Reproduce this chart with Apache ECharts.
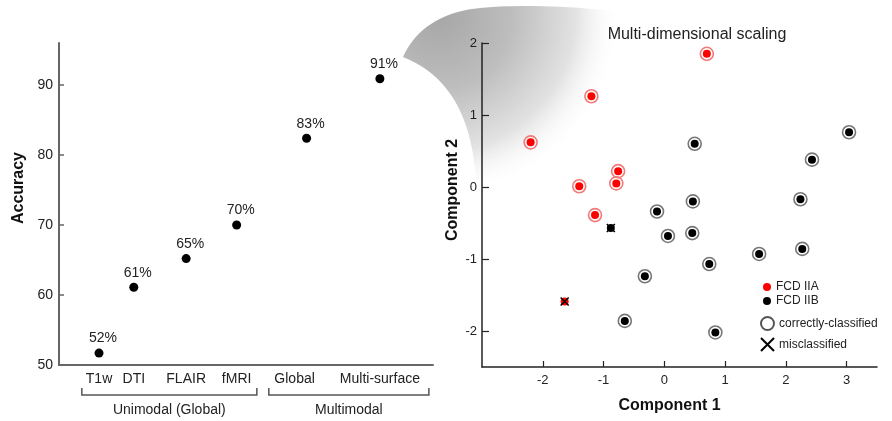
<!DOCTYPE html>
<html>
<head>
<meta charset="utf-8">
<script src="https://cdn.jsdelivr.net/npm/echarts@6/dist/echarts.min.js"></script>
<style>
  html, body { margin: 0; padding: 0; background: #fff; }
  #main { width: 892px; height: 421px; }
</style>
</head>
<body>
<div id="main"></div>
<script>
// left panel: accuracy per modality
const accCats = ['T1w', 'DTI', 'FLAIR', 'fMRI', 'Global', 'Multi-surface'];
const accX = [1.07, 2.0, 3.4, 4.75, 6.62, 8.58];
const accVals = [51.7, 61.1, 65.2, 70.0, 82.4, 90.9];
const accLabels = ['52%', '61%', '65%', '70%', '83%', '91%'];
const accTicks = [50, 60, 70, 80, 90];
const groupNames = ['Unimodal (Global)', 'Multimodal'];
const groupFrom = [0.61, 5.61];
const groupTo = [5.29, 9.89];

// right panel: MDS components
const iiaPts = [[0.70, 1.85], [-1.20, 1.26], [-2.20, 0.62], [-0.76, 0.22], [-0.79, 0.05],
  [-1.40, 0.01], [-1.14, -0.39], [-1.64, -1.59]];
const iiaOk = [1, 1, 1, 1, 1, 1, 1, 0];
const iibPts = [[0.50, 0.60], [3.04, 0.76], [2.43, 0.38], [0.47, -0.20], [-0.12, -0.34],
  [0.06, -0.68], [0.46, -0.64], [2.24, -0.17], [2.27, -0.86], [1.56, -0.93],
  [0.74, -1.07], [-0.32, -1.24], [-0.65, -1.86], [0.84, -2.02], [-0.88, -0.57]];
const iibOk = [1, 1, 1, 1, 1, 1, 1, 1, 1, 1, 1, 1, 1, 1, 0];
const mdsXTicks = [-2, -1, 0, 1, 2, 3];
const mdsYTicks = [-2, -1, 0, 1, 2];

const FONT = 'Liberation Sans, Arial, sans-serif';

const ringData = [];
const missData = [];
iiaPts.forEach((p, i) => {
  if (iiaOk[i]) ringData.push({ value: p, itemStyle: { borderColor: '#f27a7a' } });
  else missData.push(p);
});
iibPts.forEach((p, i) => {
  if (iibOk[i]) ringData.push({ value: p, itemStyle: { borderColor: '#777' } });
  else missData.push(p);
});

const chart = echarts.init(document.getElementById('main'));

const option = {
  animation: false,
  textStyle: { fontFamily: FONT },
  title: {
    text: 'Multi-dimensional scaling',
    left: 692, top: 22, textAlign: 'center', z: 8,
    textStyle: { fontFamily: FONT, fontSize: 16, fontWeight: 'normal', color: '#222' }
  },
  legend: [
    {
      orient: 'vertical', left: 758, top: 276, itemWidth: 8, itemHeight: 8, itemGap: 2,
      data: ['FCD IIA', 'FCD IIB'],
      textStyle: { fontFamily: FONT, fontSize: 12, color: '#222' }
    },
    {
      orient: 'vertical', left: 755, top: 311, itemWidth: 13, itemHeight: 13, itemGap: 6,
      data: ['correctly-classified', 'misclassified'],
      textStyle: { fontFamily: FONT, fontSize: 12, color: '#222' }
    }
  ],
  grid: [
    { left: 59, top: 43, width: 374, bottom: 56 },
    { left: 482, top: 43, right: 15, bottom: 54 }
  ],
  xAxis: [
    {
      gridIndex: 0, type: 'value', min: 0, max: 10, z: 5,
      splitLine: { show: false },
      axisLine: { lineStyle: { color: '#666', width: 2 } },
      axisTick: { show: false },
      axisLabel: {
        customValues: accX, margin: 7, fontSize: 14, color: '#222',
        formatter: v => {
          const i = accX.indexOf(v);
          if (i < 0) return '';
          return accCats[i] === 'Global' ? '{g|Global}' : accCats[i];
        },
        rich: { g: { fontSize: 14, color: '#222', padding: [0, 24, 0, 0] } }
      }
    },
    {
      gridIndex: 1, type: 'value', min: -3, max: 3.5, interval: 1, z: 5,
      splitLine: { show: false },
      axisLine: { onZero: false, lineStyle: { color: '#222', width: 1.5 } },
      axisTick: { inside: true, length: 6, customValues: mdsXTicks, lineStyle: { color: '#222', width: 1.2 } },
      axisLabel: { customValues: mdsXTicks, margin: 7, fontSize: 13, color: '#222' },
      name: 'Component 1', nameLocation: 'middle', nameGap: 31,
      nameTextStyle: { fontSize: 16, fontWeight: 'bold', color: '#111', padding: [0, 20, 0, 0] }
    }
  ],
  yAxis: [
    {
      gridIndex: 0, type: 'value', min: 50, max: 96, z: 5,
      splitLine: { show: false },
      axisLine: { show: true, lineStyle: { color: '#666', width: 2 } },
      axisTick: { show: true, inside: true, length: 5, customValues: accTicks, lineStyle: { color: '#666', width: 1.5 } },
      axisLabel: { customValues: accTicks, margin: 6, fontSize: 14, color: '#222' },
      name: 'Accuracy', nameLocation: 'middle', nameGap: 32,
      nameTextStyle: { fontSize: 16, fontWeight: 'bold', color: '#111', padding: [0, 0, 0, 32] }
    },
    {
      gridIndex: 1, type: 'value', min: -2.5, max: 2, z: 5,
      splitLine: { show: false },
      axisLine: { show: true, onZero: false, lineStyle: { color: '#222', width: 1.5 } },
      axisTick: { show: true, inside: true, length: 7, customValues: mdsYTicks, lineStyle: { color: '#222', width: 1.2 } },
      axisLabel: { customValues: mdsYTicks, margin: 5, fontSize: 13, color: '#222' },
      name: 'Component 2', nameLocation: 'middle', nameGap: 21,
      nameTextStyle: { fontSize: 16, fontWeight: 'bold', color: '#111', padding: [0, 0, 0, 30] }
    }
  ],
  series: [
    {
      name: 'Accuracy', type: 'scatter', xAxisIndex: 0, yAxisIndex: 0, z: 6,
      symbolSize: 9, itemStyle: { color: '#000', opacity: 1 },
      data: accVals.map((v, i) => [accX[i], v]),
      label: {
        show: true, position: 'top', distance: 3, offset: [4, 0],
        fontSize: 14, color: '#222',
        formatter: p => accLabels[p.dataIndex]
      }
    },
    {
      name: 'FCD IIA', type: 'scatter', xAxisIndex: 1, yAxisIndex: 1, z: 6,
      symbol: 'circle', symbolSize: 8, itemStyle: { color: '#ff0000', opacity: 1 },
      data: iiaPts
    },
    {
      name: 'FCD IIB', type: 'scatter', xAxisIndex: 1, yAxisIndex: 1, z: 6,
      symbol: 'circle', symbolSize: 8, itemStyle: { color: '#000', opacity: 1 },
      data: iibPts
    },
    {
      name: 'correctly-classified', type: 'scatter', xAxisIndex: 1, yAxisIndex: 1, z: 6,
      symbol: 'circle', symbolSize: 13,
      itemStyle: { color: 'rgba(0,0,0,0)', borderColor: '#555', borderWidth: 1.6, opacity: 1 },
      data: ringData
    },
    {
      name: 'misclassified', type: 'scatter', xAxisIndex: 1, yAxisIndex: 1, z: 6,
      symbol: 'path://M0,0L10,10M10,0L0,10', symbolSize: 8,
      itemStyle: { color: 'rgba(0,0,0,0)', borderColor: '#000', borderWidth: 1.5, opacity: 1 },
      data: missData
    }
  ]
};

chart.setOption(option);

// callout wedge outline, sampled from cubic curves
function cubic(p0, p1, p2, p3, n) {
  const out = [];
  for (let k = 0; k <= n; k++) {
    const t = k / n, u = 1 - t;
    out.push([
      u * u * u * p0[0] + 3 * u * u * t * p1[0] + 3 * u * t * t * p2[0] + t * t * t * p3[0],
      u * u * u * p0[1] + 3 * u * u * t * p1[1] + 3 * u * t * t * p2[1] + t * t * t * p3[1]
    ]);
  }
  return out;
}
const wedge = [].concat(
  cubic([403, 57], [415, 30], [440, 12], [480, 8], 20),
  cubic([480, 8], [520, 4], [580, 6], [640, 14], 20),
  [[640, 180], [476, 180]],
  cubic([476, 180], [472, 125], [455, 78], [403, 57], 24)
);

const baseY = chart.convertToPixel({ gridIndex: 0 }, [0, 50])[1];
const graphics = [{
  type: 'polygon', z: 0, silent: true,
  shape: { points: wedge },
  style: {
    fill: {
      type: 'radial', x: 0.15, y: 0.05, r: 1.05,
      colorStops: [
        { offset: 0, color: '#a6a6a6' },
        { offset: 0.4, color: '#bdbdbd' },
        { offset: 0.75, color: '#e2e2e2' },
        { offset: 1, color: 'rgba(255,255,255,0)' }
      ]
    }
  }
}];
// group brackets under the left x axis, placed via the axis scale
groupNames.forEach((g, i) => {
  const x1 = chart.convertToPixel({ gridIndex: 0 }, [groupFrom[i], 50])[0];
  const x2 = chart.convertToPixel({ gridIndex: 0 }, [groupTo[i], 50])[0];
  const y1 = baseY + 23, y2 = baseY + 30;
  graphics.push({
    type: 'polyline', silent: true,
    shape: { points: [[x1, y1], [x1, y2], [x2, y2], [x2, y1]] },
    style: { stroke: '#555', lineWidth: 1.5, fill: null }
  });
  graphics.push({
    type: 'text', silent: true,
    x: (x1 + x2) / 2, y: y2 + 15,
    style: { text: g, fontFamily: FONT, fontSize: 14, fill: '#222', align: 'center', verticalAlign: 'middle' }
  });
});
chart.setOption({ graphic: graphics });
</script>
</body>
</html>
